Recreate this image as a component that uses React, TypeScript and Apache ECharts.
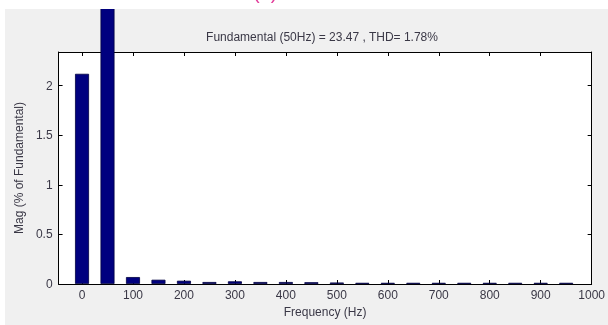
import React, { useEffect, useRef } from "react";
import * as echarts from "echarts";

const frequencies = [0, 50, 100, 150, 200, 250, 300, 350, 400, 450, 500, 550, 600, 650, 700, 750, 800, 850, 900, 950];
const magnitudes = [2.12, 100, 0.07, 0.043, 0.033, 0.02, 0.027, 0.02, 0.02, 0.018, 0.015, 0.012, 0.012, 0.012, 0.012, 0.012, 0.012, 0.012, 0.012, 0.012];
const xTicks = [0, 100, 200, 300, 400, 500, 600, 700, 800, 900, 1000];
const yTicks = [0, 0.5, 1, 1.5, 2];
const titleText = "Fundamental (50Hz) = 23.47 , THD= 1.78%";

const FONT = "Liberation Sans, Arial, sans-serif";
const TXT = "#3a3846";

export default function App() {
  const ref = useRef<HTMLDivElement>(null);
  useEffect(() => {
    const chart = echarts.init(ref.current!, null, { renderer: "svg" });
    const tickStyle = { show: true, inside: true, length: 4, lineStyle: { color: "#000", width: 1 } };
    const lineStyle = { show: true, lineStyle: { color: "#000", width: 1 } };
    const fmt = (v: number) => String(v);
    chart.setOption({
      animation: false,
      backgroundColor: "#f0f0f0",
      textStyle: { fontFamily: FONT },
      grid: { left: 50, top: 43, right: 12, bottom: 41, show: true, backgroundColor: "#fff", borderWidth: 0 },
      xAxis: [
        {
          type: "value",
          min: -46,
          max: 1000,
          position: "bottom",
          axisLine: { ...lineStyle, onZero: false },
          axisTick: { ...tickStyle, customValues: xTicks },
          axisLabel: { customValues: xTicks, formatter: fmt, color: TXT, fontSize: 12, margin: 5, fontFamily: FONT },
          splitLine: { show: false },
          name: "Frequency (Hz)",
          nameLocation: "middle",
          nameGap: 20,
          nameTextStyle: { color: TXT, fontSize: 12, fontFamily: FONT },
        },
        {
          type: "value",
          min: -46,
          max: 1000,
          position: "top",
          axisLine: { ...lineStyle, onZero: false },
          axisTick: { ...tickStyle, customValues: xTicks },
          axisLabel: { show: false },
          splitLine: { show: false },
        },
      ],
      yAxis: [
        {
          type: "value",
          min: 0,
          max: 2.34,
          position: "left",
          axisLine: { ...lineStyle, onZero: false },
          axisTick: { ...tickStyle, customValues: yTicks },
          axisLabel: { customValues: yTicks, formatter: fmt, color: TXT, fontSize: 12, margin: 6, fontFamily: FONT },
          splitLine: { show: false },
          name: "Mag (% of Fundamental)",
          nameLocation: "middle",
          nameGap: 22,
          nameTextStyle: { color: TXT, fontSize: 12, fontFamily: FONT },
        },
        {
          type: "value",
          min: 0,
          max: 2.34,
          position: "right",
          axisLine: { ...lineStyle, onZero: false },
          axisTick: { ...tickStyle, customValues: yTicks },
          axisLabel: { show: false },
          splitLine: { show: false },
        },
      ],
      graphic: [
        {
          type: "text",
          x: 317,
          y: 28,
          style: {
            text: titleText,
            fill: TXT,
            fontSize: 12,
            fontFamily: FONT,
            textAlign: "center",
            textVerticalAlign: "middle",
          },
        },
      ],
      series: [
        {
          type: "bar",
          xAxisIndex: 0,
          yAxisIndex: 0,
          clip: false,
          barWidth: 14,
          data: frequencies.map((f, i) => [f, magnitudes[i]]),
          itemStyle: { color: "#00007f", borderColor: "#000040", borderWidth: 0.8 },
        },
      ],
    });
    return () => chart.dispose();
  }, []);
  return (
    <>
      <div
        style={{
          position: "fixed",
          left: 253,
          top: -19,
          color: "#e23c9a",
          fontSize: 20,
          fontFamily: FONT,
          margin: 0,
          lineHeight: "23px",
        }}
      >
        (b)
      </div>
      <div
        ref={ref}
        style={{ position: "fixed", left: 5, top: 9, width: 603, height: 316 }}
      />
    </>
  );
}
